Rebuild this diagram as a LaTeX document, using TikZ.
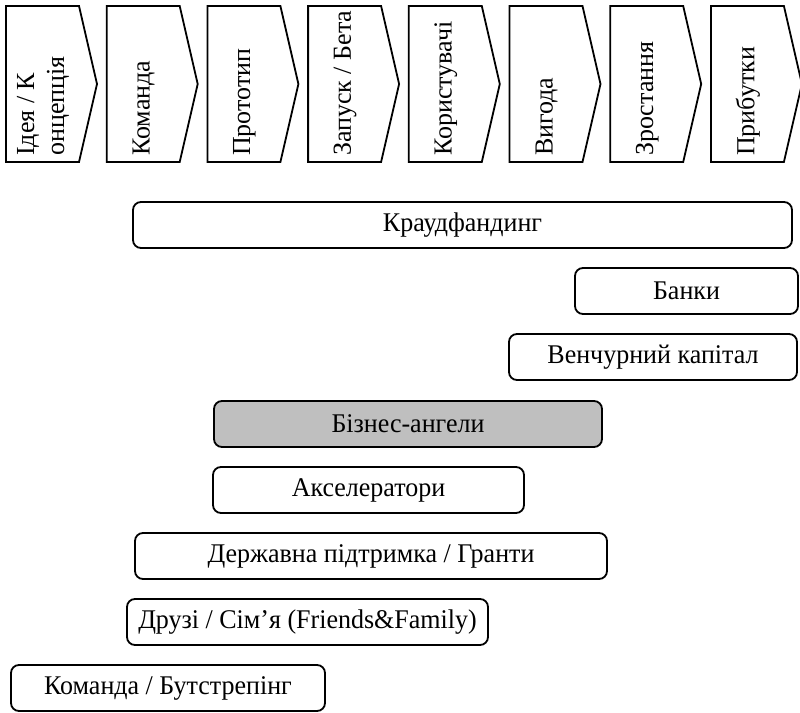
\documentclass[tikz,border=0pt]{standalone}
\usepackage{fontspec}
\setmainfont[FakeStretch=0.963]{Liberation Serif}
\newfontfamily\stagefont{Liberation Serif}

\tikzset{
	stage/.style={draw, line width=1.8pt},
	stagetext/.style={rotate=90, anchor=west, inner sep=0pt, align=left, font=\stagefont\fontsize{26}{30}\selectfont},
	fund/.style={draw, line width=1.8pt, rounded corners=8pt, minimum height=46pt, inner sep=4pt, font=\fontsize{27}{31}\selectfont},
	angelfill/.style={fill=black!25}
}

\begin{document}
\begin{tikzpicture}[x=1pt, y=-1pt]
		\useasboundingbox (0,0) rectangle (800,712);
		% Stages:
		\foreach \txt [count=\i from 0] in {{Ідея / К\\онцепція}, Команда, Прототип, {Запуск / Бета}, Користувачі, Вигода, Зростання, Прибутки} {
			\pgfmathsetmacro{\L}{6+100.7*\i}
			\draw[stage] (\L,6) -- ++(73,0) -- ++(18,78) -- ++(-18,78) -- ++(-73,0) -- cycle;
			\node[stagetext] (stage\i) at (\L+37,156) {\txt};
		}
		% Funding sources:
		\node[fund, minimum width=659pt] (crowd) at (462.5,225) {Краудфандинг};
		\node[fund, minimum width=223pt] (banks) at (686.5,291) {Банки};
		\node[fund, minimum width=288pt] (venture) at (653,357) {Венчурний капітал};
		\node[fund, angelfill, minimum width=388pt] (angels) at (408,424) {Бізнес-ангели};
		\node[fund, minimum width=311pt] (accel) at (368.5,490) {Акселератори};
		\node[fund, minimum width=472pt] (grants) at (371,556) {Державна підтримка / Гранти};
		\node[fund, minimum width=361pt] (family) at (307.5,622) {Друзі / Сім’я (Friends\&Family)};
		\node[fund, minimum width=314pt] (boot) at (168,688) {Команда / Бутстрепінг};
	\end{tikzpicture}
\end{document}
